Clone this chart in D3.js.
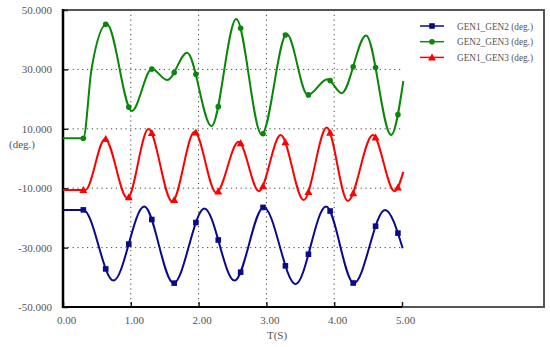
<!DOCTYPE html>
<html><head><meta charset="utf-8">
<script src="https://cdn.jsdelivr.net/npm/d3@7"></script>
<style>body{margin:0;background:#fff}svg{display:block}svg text{font-family:"Liberation Serif","Times New Roman",serif}</style>
</head><body>
<svg id="c" width="550" height="347"></svg>
<script>
// ---- data ----
const yTicks = [-50, -30, -10, 10, 30, 50];
const yTickLabels = ["-50.000", "-30.000", "-10.000", "10.000", "30.000", "50.000"];
const xTicks = [0, 1, 2, 3, 4, 5];
const xTickLabels = ["0.00", "1.00", "2.00", "3.00", "4.00", "5.00"];
const seriesNames = ["GEN1_GEN2 (deg.)", "GEN2_GEN3 (deg.)", "GEN1_GEN3 (deg.)"];
const gen1gen2 = [[0,-17.3],[0.30,-17.3],[0.745,-41.1],[1.198,-16.2],[1.63,-42.0],[2.086,-16.8],[2.53,-41.1],[2.96,-16.4],[3.43,-42.3],[3.88,-16.2],[4.29,-42.0],[4.75,-17.3],[5.01,-30.2]];
const gen2gen3 = [[0,6.8],[0.30,6.8],[0.42,30],[0.646,45.3],[1.016,16.0],[1.31,30.1],[1.54,26.4],[1.83,35.6],[2.19,10.9],[2.555,47.0],[2.93,8.1],[3.30,41.9],[3.61,21.4],[3.90,26.7],[4.11,22.0],[4.47,41.4],[4.84,7.9],[5.02,26.1]];
const gen1gen3 = [[0,-10.6],[0.33,-10.6],[0.62,6.6],[0.95,-13.4],[1.26,9.9],[1.61,-14.5],[1.94,9.0],[2.26,-11.5],[2.59,5.6],[2.89,-11.0],[3.21,7.9],[3.55,-14.0],[3.89,10.4],[4.2,-14.3],[4.57,7.9],[4.89,-11.0],[5.02,-4.5]];
const markerTimes = [0.30,0.63,0.97,1.31,1.64,1.96,2.29,2.62,2.95,3.28,3.62,3.94,4.28,4.61,4.94];

// ---- layout ----
const svg = d3.select("#c");
const L = 63, R = 402, T = 10, B = 307, FR = 544;
const x = d3.scaleLinear().domain([0,5]).range([L,R]);
const y = d3.scaleLinear().domain([-50,50]).range([B,T]);
const font = "Liberation Serif";
const txt = "#555";

// frame
svg.append("rect").attr("x",L).attr("y",T).attr("width",FR-L).attr("height",B-T)
  .attr("fill","none").attr("stroke","#555").attr("stroke-width",2);

// grid
const g = svg.append("g");
g.selectAll("line.hg").data([-30,-10,10,30]).join("line")
  .attr("x1",L).attr("x2",R).attr("y1",d=>y(d)).attr("y2",d=>y(d))
  .attr("stroke","#444").attr("stroke-width",1).attr("stroke-dasharray","1.2,3.6");
g.selectAll("line.vg").data([1,2,3,4]).join("line")
  .attr("y1",T).attr("y2",B).attr("x1",d=>x(d)).attr("x2",d=>x(d))
  .attr("stroke","#444").attr("stroke-width",1).attr("stroke-dasharray","1.2,3.6");

// axes
const ya = svg.append("g").attr("transform",`translate(${L},0)`)
  .call(d3.axisLeft(y).tickValues(yTicks).tickSize(-5).tickFormat((d,i)=>yTickLabels[i]).tickPadding(11));
const xa = svg.append("g").attr("transform",`translate(0,${B})`)
  .call(d3.axisBottom(x).tickValues(xTicks).tickSize(-5).tickFormat((d,i)=>xTickLabels[i]).tickPadding(9));
[ya,xa].forEach(a=>{
  a.attr("font-family",font);
  a.select(".domain").remove();
  a.selectAll(".tick line").attr("stroke","#222").attr("stroke-width",1.5);
  a.selectAll(".tick text").attr("fill",txt).attr("font-family",font).attr("font-size",11);
});
xa.selectAll(".tick text").attr("dx",3);
svg.append("line").attr("x1",L).attr("x2",L).attr("y1",T-1).attr("y2",B+1).attr("stroke","#000").attr("stroke-width",2.5);
svg.append("line").attr("x1",L).attr("x2",R).attr("y1",B).attr("y2",B).attr("stroke","#000").attr("stroke-width",2);

svg.append("text").attr("x",277).attr("y",339).attr("text-anchor","middle")
  .attr("fill",txt).attr("font-family",font).attr("font-size",11).text("T(S)");
svg.append("text").attr("x",9).attr("y",148)
  .attr("fill",txt).attr("font-family",font).attr("font-size",11).text("(deg.)");

// series
const series = [
  {data:gen1gen2, color:"#0a0a8c", shape:"square"},
  {data:gen2gen3, color:"#0a870a", shape:"circle"},
  {data:gen1gen3, color:"#ff0000", shape:"triangle"}
];
const line = d3.line().x(d=>x(d[0])).y(d=>y(d[1])).curve(d3.curveMonotoneX);
function marker(sel, shape, color){
  if(shape==="square") sel.append("rect").attr("x",-2.8).attr("y",-2.8).attr("width",5.6).attr("height",5.6).attr("fill",color);
  else if(shape==="circle") sel.append("circle").attr("r",2.8).attr("fill",color);
  else sel.append("path").attr("d","M0,-4L4,3L-4,3Z").attr("fill",color);
}
const draw = [1,2,0];
draw.forEach(i=>{
  const s = series[i];
  const p = svg.append("path").datum(s.data).attr("d",line)
    .attr("fill","none").attr("stroke",s.color).attr("stroke-width",2);
  const node = p.node(), len = node.getTotalLength();
  const pts = [];
  for(let l=0;l<=len;l+=0.5) pts.push(node.getPointAtLength(l));
  markerTimes.forEach(t=>{
    const px = x(t);
    let best = pts[0], bd = Infinity;
    for(const q of pts){ const d = Math.abs(q.x-px); if(d<bd){bd=d;best=q;} }
    const m = svg.append("g").attr("transform",`translate(${px},${best.y})`);
    marker(m, s.shape, s.color);
  });
});

// legend
const lg = svg.append("g");
series.forEach((s,i)=>{
  const yy = 26 + i*15.7;
  lg.append("line").attr("x1",420).attr("x2",444).attr("y1",yy).attr("y2",yy).attr("stroke",s.color).attr("stroke-width",1.5);
  marker(lg.append("g").attr("transform",`translate(432,${yy})`), s.shape, s.color);
  lg.append("text").attr("x",457).attr("y",yy+3.5).attr("fill",txt)
    .attr("font-family",font).attr("font-size",10.5)
    .attr("textLength",76).attr("lengthAdjust","spacingAndGlyphs").text(seriesNames[i]);
});
</script>
</body></html>
